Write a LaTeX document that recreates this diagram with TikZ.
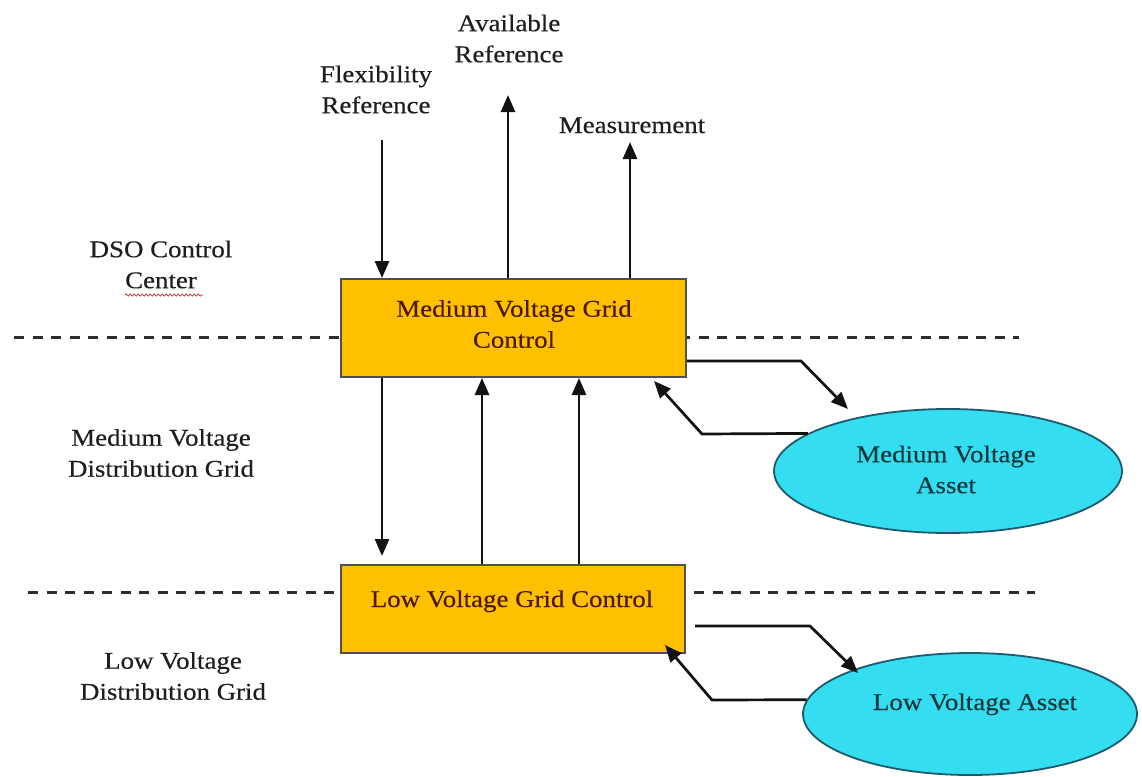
\documentclass[tikz,border=0pt]{standalone}
\usepackage{fontspec}
\setmainfont{Liberation Serif}[FakeStretch=1.12, FakeBold=0.35]
\usetikzlibrary{arrows.meta,shapes.geometric,decorations.pathmorphing}

\definecolor{boxfill}{HTML}{FFC000}
\definecolor{boxedge}{HTML}{505050}
\definecolor{boxtext}{RGB}{75,25,0}
\definecolor{assetfill}{RGB}{52,222,240}
\definecolor{assetedge}{RGB}{30,90,110}
\definecolor{assettext}{RGB}{15,55,60}
\definecolor{labeltext}{RGB}{30,30,30}
\definecolor{dashcol}{RGB}{45,45,45}
\definecolor{wavecol}{RGB}{220,40,40}

\tikzset{
  every node/.style={font=\fontsize{24}{31}\selectfont, inner sep=0pt, align=center},
  ctrlbox/.style={draw=boxedge, line width=2pt, fill=boxfill},
  asset/.style={ellipse, draw=assetedge, line width=1.8pt, fill=assetfill},
  plainlabel/.style={text=labeltext},
  flow/.style={draw=black!93, line width=2.7pt,
    -{Triangle[length=17pt,width=14pt]}},
  boundary/.style={draw=dashcol, line width=3pt, dash pattern=on 10pt off 8.5pt},
  spellmark/.style={draw=wavecol, line width=0.7pt,
    decorate, decoration={snake, segment length=4pt, amplitude=1.1pt}}
}

\begin{document}
\begin{tikzpicture}[x=1pt, y=-1pt]
  % canvas
  \fill[white] (0,0) rectangle (1142,776);
  \useasboundingbox (0,0) rectangle (1142,776);

  % boundaries between the grid levels
  \coordinate (b1s) at (14,337);
  \coordinate (b1e) at (1019,337);
  \coordinate (b2s) at (28,592);
  \coordinate (b2e) at (1035,592);
  \draw[boundary] (b1s) -- (b1e);
  \draw[boundary] (b2s) -- (b2e);

  % control boxes
  \node[ctrlbox, minimum width=345pt, minimum height=98pt] (mv) at (513.5,328) {};
  \node[text=boxtext] (mvt) at (514,324) {Medium Voltage Grid\\Control};
  \node[ctrlbox, minimum width=344pt, minimum height=88pt] (lv) at (513,609) {};
  \node[text=boxtext, anchor=base] (lvt) at (512,607) {Low Voltage Grid Control};

  % assets
  \node[asset, minimum width=348pt, minimum height=124pt] (mva) at (948,471) {};
  \node[text=assettext] (mvat) at (946,469.5) {Medium Voltage\\Asset};
  \node[asset, minimum width=334pt, minimum height=122pt] (lva) at (970,714) {};
  \node[text=assettext, anchor=base] (lvat) at (975,710) {Low Voltage Asset};

  % zone labels
  \node[plainlabel] (dso) at (161,264.5) {DSO Control\\Center};
  \node[plainlabel] (mvzone) at (161,453) {Medium Voltage\\Distribution Grid};
  \node[plainlabel] (lvzone) at (173,676) {Low Voltage\\Distribution Grid};
  \coordinate (waveA) at (125,295);
  \coordinate (waveB) at (203,295);
  \draw[spellmark] (waveA) -- (waveB);

  % signals exchanged with the control center
  \node[plainlabel] (flex) at (376,89.5) {Flexibility\\Reference};
  \node[plainlabel] (avail) at (509,38.5) {Available\\Reference};
  \node[plainlabel, anchor=base] (meas) at (632,133) {Measurement};
  \coordinate (flexS) at (382,140);
  \coordinate (availE) at (508,95);
  \coordinate (measE) at (630,142);
  \draw[flow] (flexS) -- (flexS |- mv.north);
  \draw[flow] (availE |- mv.north) -- (availE);
  \draw[flow] (measE |- mv.north) -- (measE);

  % medium <-> low voltage control
  \coordinate (down) at (382,556);
  \coordinate (up1) at (482,0);
  \coordinate (up2) at (579,0);
  \draw[flow] (down |- mv.south) -- (down);
  \draw[flow] (up1 |- lv.north) -- (up1 |- mv.south);
  \draw[flow] (up2 |- lv.north) -- (up2 |- mv.south);

  % medium voltage control <-> asset
  \coordinate (mvk1) at (801,361);
  \coordinate (mvtip1) at (848,409);
  \draw[flow] (mv.east |- mvk1) -- (mvk1) -- (mvtip1);
  \coordinate (mvk2) at (702,434);
  \coordinate (mvtip2) at (654,381);
  \draw[flow] (mva.165) -- (mvk2) -- (mvtip2);

  % low voltage control <-> asset
  \coordinate (lvs1) at (695,626);
  \coordinate (lvk1) at (810,626);
  \coordinate (lvtip1) at (858,673);
  \draw[flow] (lvs1) -- (lvk1) -- (lvtip1);
  \coordinate (lvk2) at (712,700);
  \coordinate (lvtip2) at (665,645);
  \draw[flow] (lva.175) -- (lvk2) -- (lvtip2);
\end{tikzpicture}
\end{document}
